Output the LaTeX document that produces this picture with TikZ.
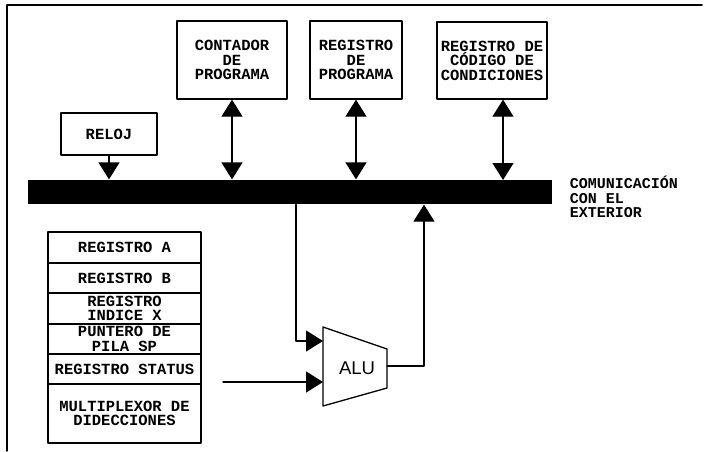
\documentclass[tikz,border=0pt]{standalone}
\usepackage{fontspec}
\usetikzlibrary{arrows.meta}
\newfontfamily\plotfont{Liberation Mono}[BoldFont={Liberation Mono Bold}]
\newfontfamily\alufont{Liberation Sans}
\begin{document}
\begin{tikzpicture}[x=1pt,y=-1pt,>={Triangle[length=17pt,width=21pt]},line join=round,line cap=round,line width=1.3pt,
	caja/.style={draw,inner sep=0pt,align=center,font=\plotfont\bfseries\fontsize{15.5}{14.5}\selectfont},
	celda/.style={caja,minimum width=153pt}]
		\useasboundingbox (0,0) rectangle (705,451);
		\draw[line width=1.5pt] (7,451)--(7,5)--(702,5);
		% bloques superiores y bus
		\node[caja,minimum width=96pt,minimum height=42pt] (reloj) at (109,134) {RELOJ};
		\node[caja,minimum width=110pt,minimum height=78pt] (contador) at (232,60) {CONTADOR\\DE\\PROGRAMA};
		\node[caja,minimum width=92pt,minimum height=78pt] (regprog) at (356,60) {REGISTRO\\DE\\PROGRAMA};
		\node[caja,minimum width=110pt,minimum height=77pt] (regcod) at (492,60.5) {REGISTRO DE\\CÓDIGO DE\\CONDICIONES};
		\node[fill=black,inner sep=0pt,minimum width=524pt,minimum height=24pt] (bus) at (290,192) {};
		\node[anchor=west,align=left,font=\plotfont\bfseries\fontsize{15}{14.5}\selectfont] (exterior) at (566,197) {COMUNICACIÓN\\ CON EL\\ EXTERIOR};
		\draw[->] (reloj.south)--(reloj.south|-bus.north);
		\draw[<->] (contador.south)--(contador.south|-bus.north);
		\draw[<->] (regprog.south)--(regprog.south|-bus.north);
		\coordinate (codbus) at (503,180);
		\draw[<->] (regcod.south-|codbus)--(codbus);
		% registros
		\node[celda,minimum height=31pt] (rega) at (124.5,247.5) {REGISTRO A};
		\node[celda,minimum height=30pt] (regb) at (124.5,278) {REGISTRO B};
		\node[celda,minimum height=31pt] (regx) at (124.5,308.5) {REGISTRO\\INDICE X};
		\node[celda,minimum height=30pt] (pila) at (124.5,339) {PUNTERO DE\\PILA SP};
		\node[celda,minimum height=30pt] (status) at (124.5,369) {REGISTRO STATUS};
		\node[celda,minimum height=59pt] (mux) at (124.5,413.5) {MULTIPLEXOR DE\\DIDECCIONES};
		% ALU
		\draw (323,327)--(387,349)--(387,388)--(323,406)--cycle;
		\node[font=\alufont\fontsize{18.5}{20}\selectfont] (alu) at (357,368) {ALU};
		\coordinate (aluin1) at (323,341);
		\coordinate (aluin2) at (323,382);
		\coordinate (aluout) at (387,366);
		\coordinate (entrada) at (223,382);
		\draw[->] (bus.south-|296,0)--(296,341)--(aluin1);
		\draw[->] (entrada)--(aluin2);
		\draw[->] (aluout)--(424,366)--(bus.south-|424,0);
\end{tikzpicture}
\end{document}
